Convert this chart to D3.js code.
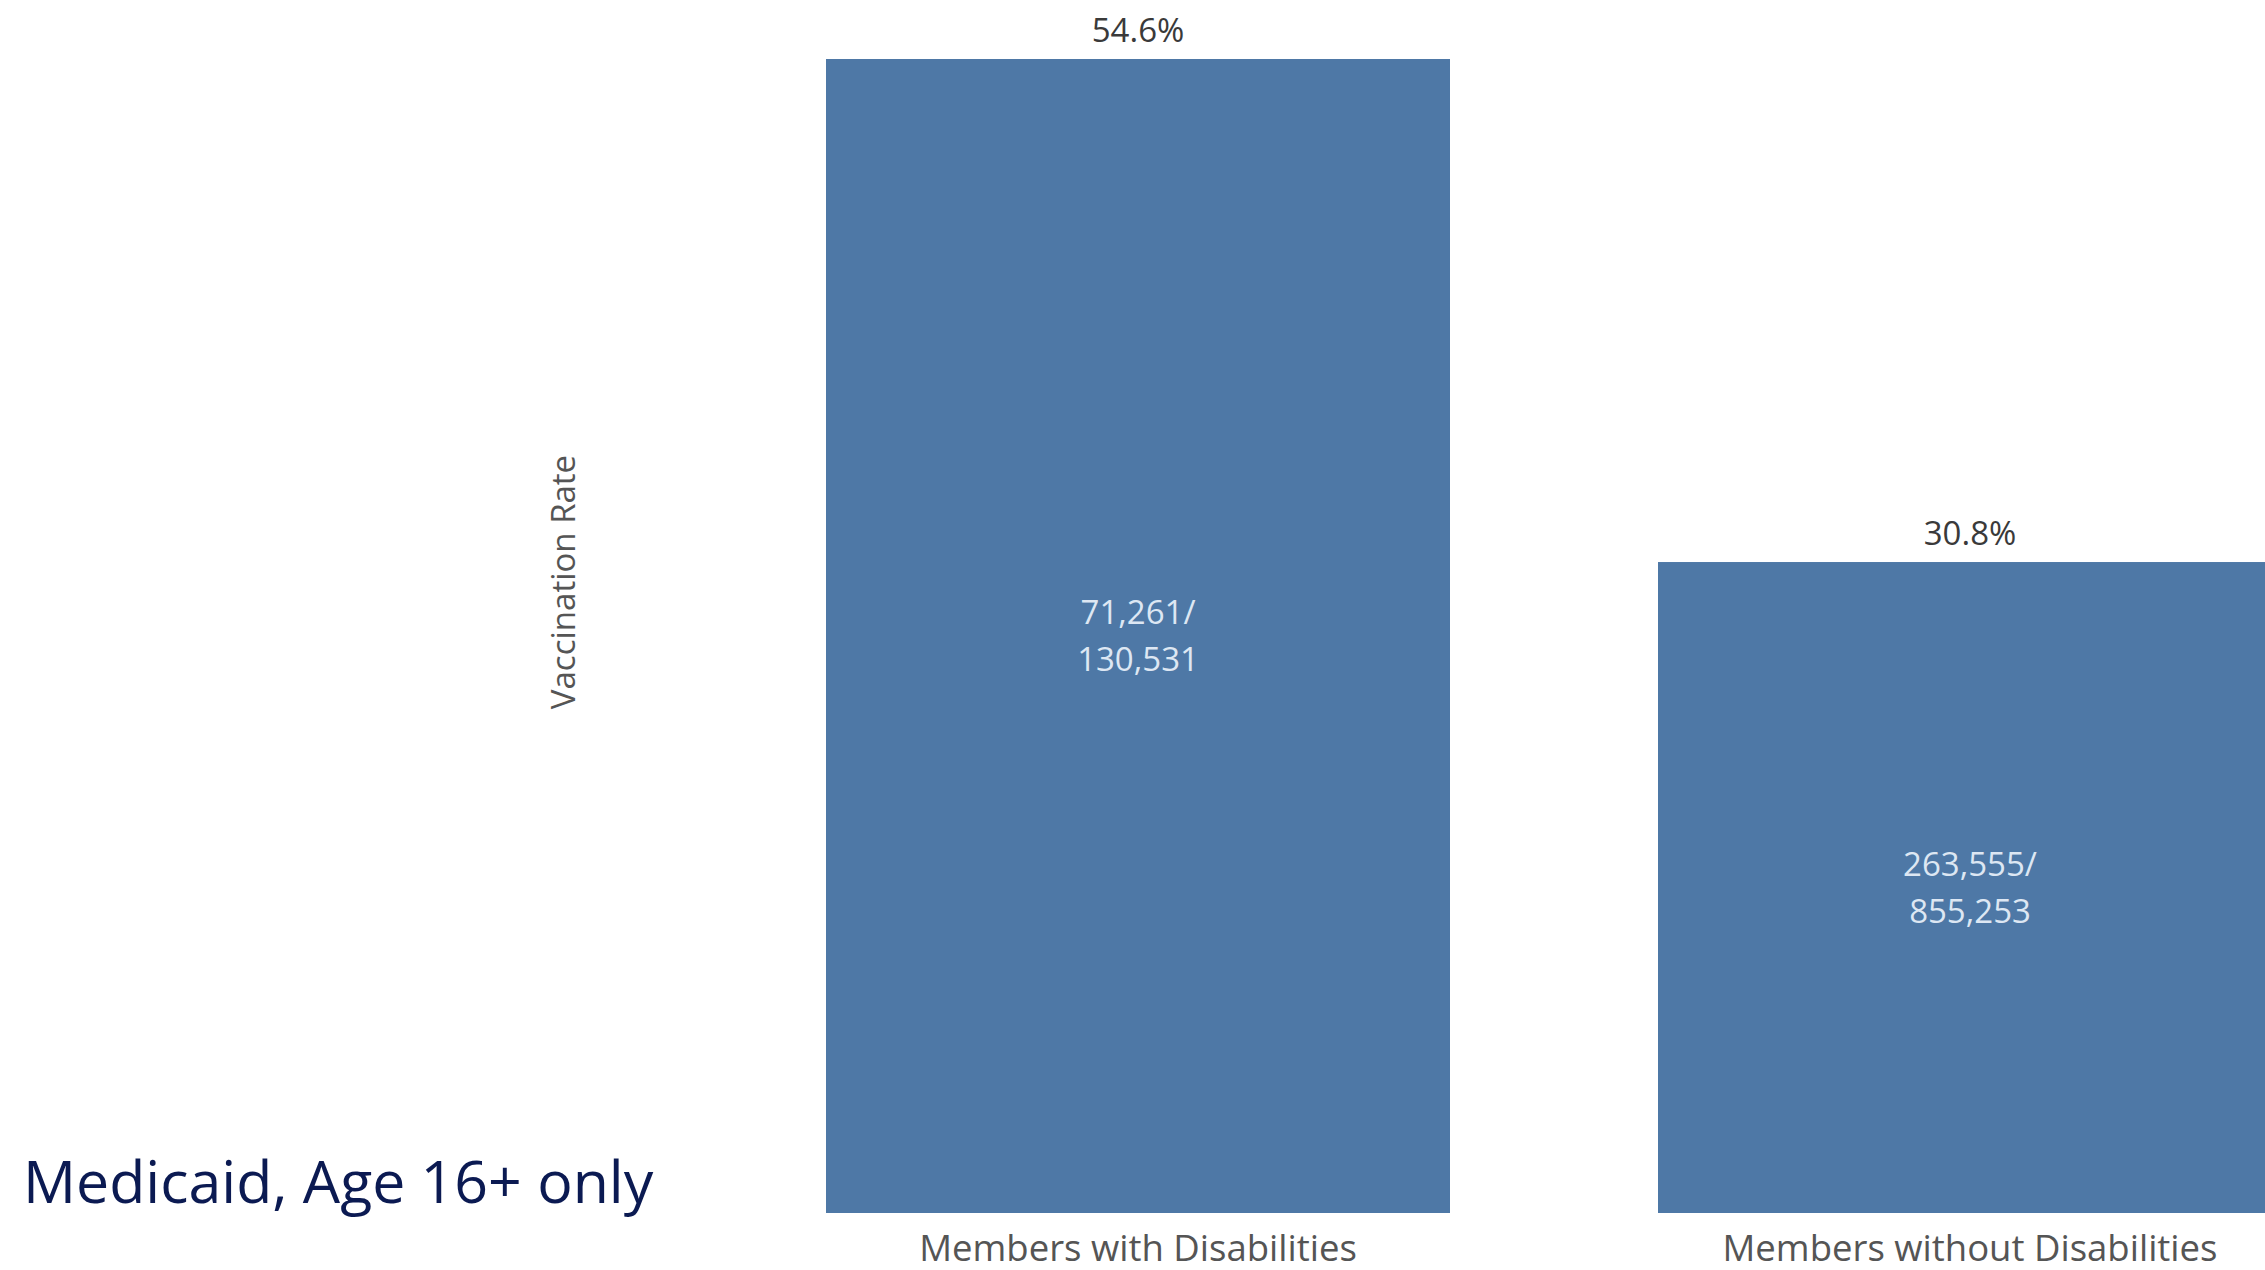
<!DOCTYPE html>
<html>
<head>
<meta charset="utf-8">
<title>Vaccination Rate</title>
<script src="https://d3js.org/d3.v7.min.js"></script>
<style>
  body { margin: 0; background: #fff; }
  .bar { fill: #4e78a6; }
  text { font-family: "Open Sans", sans-serif; }
</style>
</head>
<body>
<script>

// data
var categories = ["Members with Disabilities", "Members without Disabilities"];
var rates = [54.6, 30.8];
var vaccinated = [71261, 263555];
var members = [130531, 855253];

var data = categories.map(function(c, i) {
  return {cat: c, rate: rates[i], vac: vaccinated[i], total: members[i]};
});

var W = 2265, H = 1270;
var baseY = 1213, topY = 59;

var svg = d3.select("body").append("svg")
    .attr("width", W)
    .attr("height", H);

// band scale: second bar runs off the right edge like the original
var x = d3.scaleBand()
    .domain(categories)
    .range([722, 2386])
    .paddingInner(0.25)
    .paddingOuter(0.125);

var y = d3.scaleLinear()
    .domain([0, d3.max(rates)])
    .range([baseY, topY]);

// bars
svg.selectAll(".bar")
    .data(data)
  .enter().append("rect")
    .attr("class", "bar")
    .attr("x", function(d) { return x(d.cat); })
    .attr("width", x.bandwidth())
    .attr("y", function(d) { return y(d.rate); })
    .attr("height", function(d) { return baseY - y(d.rate); });

// rate labels above bars
svg.selectAll(".rate")
    .data(data)
  .enter().append("text")
    .attr("class", "rate")
    .attr("x", function(d) { return x(d.cat) + x.bandwidth() / 2; })
    .attr("y", function(d) { return y(d.rate) - 17; })
    .attr("text-anchor", "middle")
    .style("font-size", "33px")
    .style("fill", "#3a3a3a")
    .text(function(d) { return d3.format(".1f")(d.rate) + "%"; });

// counts inside bars
var fmt = d3.format(",");
var inner = svg.selectAll(".count")
    .data(data)
  .enter().append("text")
    .attr("class", "count")
    .attr("text-anchor", "middle")
    .style("font-size", "33px")
    .style("fill", "#dde7f3")
    .attr("transform", function(d) {
      var cy = (y(d.rate) + baseY) / 2;
      return "translate(" + (x(d.cat) + x.bandwidth() / 2) + "," + cy + ")";
    });
inner.append("tspan")
    .attr("x", 0).attr("y", -12)
    .text(function(d) { return fmt(d.vac) + "/"; });
inner.append("tspan")
    .attr("x", 0).attr("y", 35)
    .text(function(d) { return fmt(d.total); });

// x axis, labels only
var xAxis = svg.append("g")
    .attr("transform", "translate(0," + baseY + ")")
    .call(d3.axisBottom(x).tickSize(0));
xAxis.select(".domain").remove();
xAxis.selectAll("text")
    .attr("y", 48)
    .attr("dy", 0)
    .style("font-family", "Open Sans, sans-serif")
    .style("font-size", "36.5px")
    .style("fill", "#555");

// y axis title
svg.append("text")
    .attr("transform", "translate(575,582) rotate(-90)")
    .attr("text-anchor", "middle")
    .style("font-size", "33px")
    .style("fill", "#555")
    .text("Vaccination Rate");

// note bottom left
svg.append("text")
    .attr("x", 23)
    .attr("y", 1203)
    .style("font-size", "59px")
    .style("fill", "#0b1a52")
    .text("Medicaid, Age 16+ only");

</script>
</body>
</html>
